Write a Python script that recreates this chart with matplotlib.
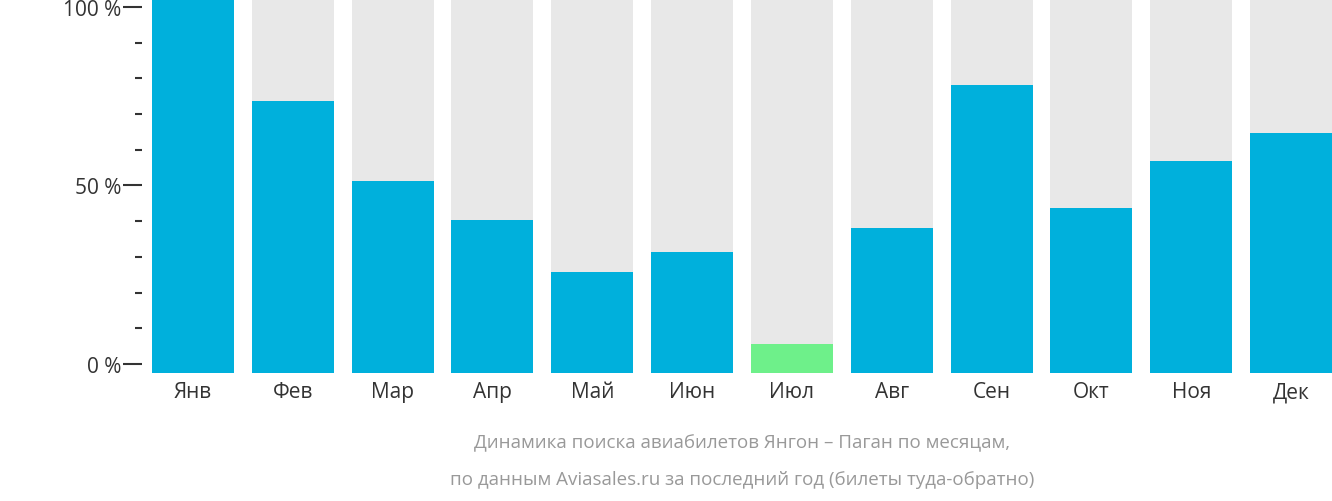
import numpy as np
import matplotlib as mpl
mpl.use('Agg')
import matplotlib.pyplot as plt

months = ['Янв', 'Фев', 'Мар', 'Апр', 'Май', 'Июн', 'Июл', 'Авг', 'Сен', 'Окт', 'Ноя', 'Дек']
values = [103, 73.7, 51.3, 40.3, 25.8, 31.4, 5.6, 38.1, 78.2, 43.7, 56.9, 64.7]
lowest = 'Июл'

plt.rcParams['font.family'] = 'Open Sans'
fig = plt.figure(figsize=(13.32, 5.02), dpi=100)
ax = fig.add_axes([152/1332, 128/502, 1180/1332, 374/502])

base = -2.5
x = np.arange(len(months))
ax.bar(x, 110, bottom=base, width=0.82, color='#e8e8e8')
colors = ['#6ef08a' if m == lowest else '#00b0dc' for m in months]
ax.bar(x, np.array(values) - base, bottom=base, width=0.82, color=colors)

ax.set_xlim(-0.41, 11.41)
ax.set_ylim(base, 102.2)
for s in ['top', 'right', 'bottom']:
    ax.spines[s].set_visible(False)
ax.spines['left'].set_visible(False)
ax.set_xticks(x)
ax.set_xticklabels(months, fontsize=15, color='#333333')
ax.tick_params(axis='x', length=0, pad=6)
ax.set_yticks([0, 50, 100])
ax.set_yticklabels(['0 %', '50 %', '100 %'], fontsize=15, color='#333333')
ax.set_yticks(np.arange(0, 101, 10), minor=True)
ax.tick_params(axis='y', which='major', length=14, width=1.5, pad=8, color='#333333')
ax.tick_params(axis='y', which='minor', length=5, width=1.5, color='#333333')
for t in ax.yaxis.get_major_ticks() + ax.yaxis.get_minor_ticks():
    t.tick1line.set_transform(t.tick1line.get_transform() + mpl.transforms.ScaledTranslation(-10/100, 0, fig.dpi_scale_trans))
for t in ax.yaxis.get_minor_ticks():
    t.tick1line.set_transform(t.tick1line.get_transform() + mpl.transforms.ScaledTranslation(0, 0, fig.dpi_scale_trans))

fig.text(742/1332, 1 - 443/502, 'Динамика поиска авиабилетов Янгон – Паган по месяцам,',
         ha='center', va='center', fontsize=13.5, color='#999999')
fig.text(742/1332, 1 - 480/502, 'по данным Aviasales.ru за последний год (билеты туда-обратно)',
         ha='center', va='center', fontsize=13.5, color='#999999')

fig.savefig('out.png', dpi=100)
